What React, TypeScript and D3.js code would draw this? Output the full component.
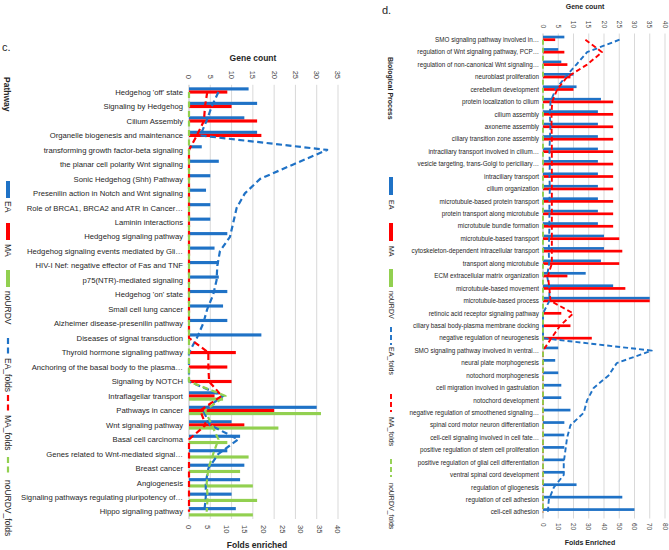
import React from 'react';
import * as d3 from 'd3';

// ---------- Panel c data ----------
const cCategories = [
  "Hedgehog 'off' state",
  'Signaling by Hedgehog',
  'Cilium Assembly',
  'Organelle biogenesis and maintenance',
  'transforming growth factor-beta signaling',
  'the planar cell polarity Wnt signaling',
  'Sonic Hedgehog (Shh) Pathway',
  'Presenilin action in Notch and Wnt signaling',
  'Role of BRCA1, BRCA2 and ATR in Cancer…',
  'Laminin interactions',
  'Hedgehog signaling pathway',
  'Hedgehog signaling events mediated by Gli…',
  'HIV-I Nef: negative effector of Fas and TNF',
  'p75(NTR)-mediated signaling',
  "Hedgehog 'on' state",
  'Small cell lung cancer',
  'Alzheimer disease-presenilin pathway',
  'Diseases of signal transduction',
  'Thyroid hormone signaling pathway',
  'Anchoring of the basal body to the plasma…',
  'Signaling by NOTCH',
  'Intraflagellar transport',
  'Pathways in cancer',
  'Wnt signaling pathway',
  'Basal cell carcinoma',
  'Genes related to Wnt-mediated signal…',
  'Breast cancer',
  'Angiogenesis',
  'Signaling pathways regulating pluripotency of…',
  'Hippo signaling pathway',
];
const cEA = [14, 16, 13, 16, 3, 7, 5, 4, 5, 5, 9, 6, 7, 7, 9, 8, 9, 17, 0, 0, 0, 7, 30, 10, 12, 9, 13, 12, 10, 11];
const cMA = [9, 10, 16, 17, 0, 0, 0, 0, 0, 0, 0, 0, 0, 0, 0, 0, 0, 0, 11, 9, 10, 6, 20, 13, 0, 0, 0, 0, 0, 0];
const cNU = [0, 0, 0, 0, 0, 0, 0, 0, 0, 0, 0, 0, 0, 0, 0, 0, 0, 0, 0, 0, 0, 8, 31, 21, 9, 14, 12, 15, 16, 15];
const cEAFolds = [7.9, 6.1, 4.7, 3.0, 37.1, 28, 19.1, 15, 12.8, 11.9, 11, 8.3, 7.6, 7.4, 6.5, 4.9, 3.8, 2.1, 0, 0, 0, 9.2, 3.8, 5.6, 13.2, 7.9, 5.2, 4.5, 4.5, 4.1];
const cMAFolds = [4.9, 4.3, 4.0, 2.1, 0, 0, 0, 0, 0, 0, 0, 0, 0, 0, 0, 0, 0, 0, 5.2, 5.2, 5.4, 8.8, 3.0, 4.5, 0, 0, 0, 0, 0, 0];
const cNUFolds = [0, 0, 0, 0, 0, 0, 0, 0, 0, 0, 0, 0, 0, 0, 0, 0, 0, 0, 0, 0, 0, 9.8, 4.3, 6.1, 7.9, 6.5, 5.2, 4.75, 5, 4.75];
const cCountTicks = [0, 5, 10, 15, 20, 25, 30, 35];
const cFoldTicks = [0, 5, 10, 15, 20, 25, 30, 35, 40];

// ---------- Panel d data ----------
const dCategories = [
  'SMO signaling pathway involved in…',
  'regulation of Wnt signaling pathway, PCP…',
  'regulation of non-canonical Wnt signaling…',
  'neuroblast proliferation',
  'cerebellum development',
  'protein localization to cilium',
  'cilium assembly',
  'axoneme assembly',
  'ciliary transition zone assembly',
  'intraciliary transport involved in cilium…',
  'vesicle targeting, trans-Golgi to periciliary…',
  'intraciliary transport',
  'cilium organization',
  'microtubule-based protein transport',
  'protein transport along microtubule',
  'microtubule bundle formation',
  'microtubule-based transport',
  'cytoskeleton-dependent intracellular transport',
  'transport along microtubule',
  'ECM extracellular matrix organization',
  'microtubule-based movement',
  'microtubule-based process',
  'retinoic acid receptor  signaling pathway',
  'ciliary basal body-plasma membrane docking',
  'negative regulation of neurogenesis',
  'SMO signaling pathway involved in ventral…',
  'neural plate morphogenesis',
  'notochord morphogenesis',
  'cell migration involved in gastrulation',
  'notochord development',
  'negative regulation of smoothened signaling…',
  'spinal cord motor neuron differentiation',
  'cell-cell signaling involved in cell fate…',
  'positive regulation of stem cell proliferation',
  'positive regulation of glial cell differentiation',
  'ventral spinal cord development',
  'regulation of gliogenesis',
  'regulation of cell adhesion',
  'cell-cell adhesion',
];
const dEA = [7, 5, 6, 10, 11, 19, 18, 18, 18, 18, 18, 18, 18, 18, 18, 18, 20, 20, 19, 14, 23, 35, 0, 0, 0, 5, 4, 5, 6, 6, 9, 7, 7, 7, 7, 7, 11, 26, 30];
const dMA = [4, 7, 8, 9, 10, 23, 23, 23, 23, 23, 23, 23, 23, 23, 23, 23, 25, 26, 25, 8, 27, 35, 6, 9, 16, 0, 0, 0, 0, 0, 0, 0, 0, 0, 0, 0, 0, 0, 0];
const dNU = [0, 0, 0, 0, 0, 0, 0, 0, 0, 0, 0, 0, 0, 0, 0, 0, 0, 0, 0, 0, 0, 0, 0, 0, 0, 0, 0, 0, 0, 0, 0, 0, 0, 0, 0, 0, 0, 0, 0];
const dEAFolds = [50.2, 28.9, 21.9, 14.7, 8.2, 4.9, 4.5, 4.9, 4.5, 4.2, 4.5, 4.2, 4.5, 4.2, 4.2, 4.2, 4.0, 3.8, 4.0, 2.7, 4.2, 4.2, 0, 0, 0, 71.3, 48.4, 43, 33.2, 28.9, 26.7, 18, 15.8, 14.7, 13.6, 13.6, 7.1, 3.8, 3.2];
const dMAFolds = [27.8, 38.7, 28.9, 15.8, 9.3, 6.0, 5.6, 5.6, 5.8, 5.8, 5.8, 5.8, 5.8, 5.8, 5.8, 5.8, 5.8, 5.8, 5.8, 3.2, 4.2, 4.9, 19.8, 11.2, 5.5, 0, 0, 0, 0, 0, 0, 0, 0, 0, 0, 0, 0, 0, 0];
const dNUFolds = [0, 0, 0, 0, 0, 0, 0, 0, 0, 0, 0, 0, 0, 0, 0, 0, 0, 0, 0, 0, 0, 0, 0, 0, 0, 0, 0, 0, 0, 0, 0, 0, 0, 0, 0, 0, 0, 0, 0];
const dCountTicks = [0, 5, 10, 15, 20, 25, 30, 35, 40];
const dFoldTicks = [0, 10, 20, 30, 40, 50, 60, 70, 80];

const legendNames = ['EA', 'MA', 'noURDV', 'EA_folds', 'MA_folds', 'noURDV_folds'];

const BLUE = '#1f72c6';
const RED = '#ff0000';
const GREEN = '#92d050';
const COLORS = [BLUE, RED, GREEN];
const FONT = "'Liberation Sans', Arial, sans-serif";
const TXT = '#262626';

type Layout = {
  x0: number; x1: number; y0: number; y1: number;
  labelX: number; labelSize: number;
  tickSize: number; topTickY: number; botTickY: number;
  countTitle: [number, number]; foldTitle: [number, number]; titleSize: number;
  foldTitleText: string;
  catTitle: string; catTitlePos: [number, number];
  panelLabel: string; panelLabelPos: [number, number];
  legendX: number; legendSize: number;
  legendSw: number[]; legendTx: number[]; swLen: number;
  lineW: number; dash: string;
};

function Panel({ cats, counts, folds, countTicks, foldTicks, L }: any) {
  const Lx = L as Layout;
  const cMax = countTicks[countTicks.length - 1];
  const fMax = foldTicks[foldTicks.length - 1];
  const xc = d3.scaleLinear().domain([0, cMax]).range([Lx.x0, Lx.x1]);
  const xf = d3.scaleLinear().domain([0, fMax]).range([Lx.x0, Lx.x1]);
  const y = d3.scaleBand<string>().domain(cats).range([Lx.y0, Lx.y1]).paddingInner(0.35).paddingOuter(0.175);
  const sub = d3.scaleBand<number>().domain([0, 1, 2]).range([0, y.bandwidth()]);
  const cy = (i: number) => (y(cats[i]) as number) + y.bandwidth() / 2;
  const line = d3.line<number>().x((v) => xf(v)).y((_v, i) => cy(i));

  return (
    <g fontFamily={FONT}>
      <text x={Lx.panelLabelPos[0]} y={Lx.panelLabelPos[1]} fontSize={11} fill={TXT}>{Lx.panelLabel}</text>
      {/* gridlines */}
      {countTicks.filter((t: number) => t > 0).map((t: number) => (
        <line key={'g' + t} x1={xc(t)} x2={xc(t)} y1={Lx.y0} y2={Lx.y1} stroke="#d9d9d9" strokeWidth={1} />
      ))}
      <line x1={Lx.x0} x2={Lx.x0} y1={Lx.y0} y2={Lx.y1} stroke="#bfbfbf" strokeWidth={1} />
      {/* top ticks (gene count) */}
      {countTicks.map((t: number) => (
        <text key={'tt' + t} transform={`translate(${xc(t)},${Lx.topTickY}) rotate(90)`} textAnchor="end" dy="0.35em" fontSize={Lx.tickSize} fill="#444">{t}</text>
      ))}
      {foldTicks.map((t: number) => (
        <text key={'bt' + t} transform={`translate(${xf(t)},${Lx.botTickY}) rotate(90)`} textAnchor="start" dy="0.35em" fontSize={Lx.tickSize} fill="#444">{t}</text>
      ))}
      <text x={Lx.countTitle[0]} y={Lx.countTitle[1]} textAnchor="middle" fontWeight="bold" fontSize={Lx.titleSize} fill={TXT}>Gene count</text>
      <text x={Lx.foldTitle[0]} y={Lx.foldTitle[1]} textAnchor="middle" fontWeight="bold" fontSize={Lx.titleSize} fill={TXT}>{Lx.foldTitleText}</text>
      <text transform={`translate(${Lx.catTitlePos[0]},${Lx.catTitlePos[1]}) rotate(90)`} dy="0.35em" fontWeight="bold" fontSize={Lx.titleSize} fill={TXT}>{Lx.catTitle}</text>
      {/* category labels */}
      {cats.map((c: string, i: number) => (
        <text key={'c' + i} x={Lx.labelX} y={cy(i)} dy="0.35em" textAnchor="end" fontSize={Lx.labelSize} fill={TXT}>{c}</text>
      ))}
      {/* bars */}
      {counts.map((vals: number[], s: number) => (
        <g key={'s' + s} fill={COLORS[s]}>
          {vals.map((v, i) => v > 0 ? (
            <rect key={i} x={xc(0)} y={(y(cats[i]) as number) + (sub(s) as number)} width={xc(v) - xc(0)} height={sub.bandwidth()} />
          ) : null)}
        </g>
      ))}
      {/* fold lines */}
      {folds.map((vals: number[], s: number) => (
        <path key={'l' + s} d={line(vals) as string} fill="none" stroke={COLORS[s]} strokeWidth={Lx.lineW} strokeDasharray={Lx.dash} strokeLinejoin="round" />
      ))}
      {/* legend */}
      {legendNames.map((n, k) => {
        const col = COLORS[k % 3];
        const sy = Lx.legendSw[k];
        return (
          <g key={'lg' + k}>
            {k < 3 ? (
              <rect x={Lx.legendX - 2} y={sy} width={4} height={Lx.swLen} fill={col} />
            ) : (
              <line x1={Lx.legendX} x2={Lx.legendX} y1={sy} y2={sy + Lx.swLen} stroke={col} strokeWidth={Lx.lineW} strokeDasharray={Lx.dash} />
            )}
            <text transform={`translate(${Lx.legendX},${Lx.legendTx[k]}) rotate(90)`} dy="0.35em" fontSize={Lx.legendSize} fill={TXT}>{n}</text>
          </g>
        );
      })}
    </g>
  );
}

const cLayout: Layout = {
  x0: 189, x1: 338, y0: 84.8, y1: 519,
  labelX: 183, labelSize: 7.7,
  tickSize: 7.5, topTickY: 79, botTickY: 525,
  countTitle: [253, 61], foldTitle: [257, 548], titleSize: 8.5,
  foldTitleText: 'Folds enriched',
  catTitle: 'Pathway', catTitlePos: [7, 77],
  panelLabel: 'c.', panelLabelPos: [2, 51],
  legendX: 8, legendSize: 8.5,
  legendSw: [181, 223, 270, 338, 395, 457], legendTx: [201, 244, 291, 358, 415, 480], swLen: 17,
  lineW: 2.2, dash: '6,3.5',
};

const dLayout: Layout = {
  x0: 543, x1: 665, y0: 33.5, y1: 518.5,
  labelX: 539, labelSize: 6.3,
  tickSize: 6.5, topTickY: 28, botTickY: 523,
  countTitle: [585, 9], foldTitle: [590, 545], titleSize: 7,
  foldTitleText: 'Folds Enriched',
  catTitle: 'Biological Process', catTitlePos: [390, 57],
  panelLabel: 'd.', panelLabelPos: [382, 14],
  legendX: 391, legendSize: 7,
  legendSw: [177, 223, 269, 327, 394, 459], legendTx: [200, 246, 291, 347, 417, 483], swLen: 18,
  lineW: 1.9, dash: '5,3',
};

export default function App() {
  return (
    <svg width={669} height={550} style={{ position: 'absolute', left: 0, top: 0, background: '#fff' }}>
      <rect width={669} height={550} fill="#fff" />
      <Panel cats={cCategories} counts={[cEA, cMA, cNU]} folds={[cEAFolds, cMAFolds, cNUFolds]} countTicks={cCountTicks} foldTicks={cFoldTicks} L={cLayout} />
      <Panel cats={dCategories} counts={[dEA, dMA, dNU]} folds={[dEAFolds, dMAFolds, dNUFolds]} countTicks={dCountTicks} foldTicks={dFoldTicks} L={dLayout} />
    </svg>
  );
}
